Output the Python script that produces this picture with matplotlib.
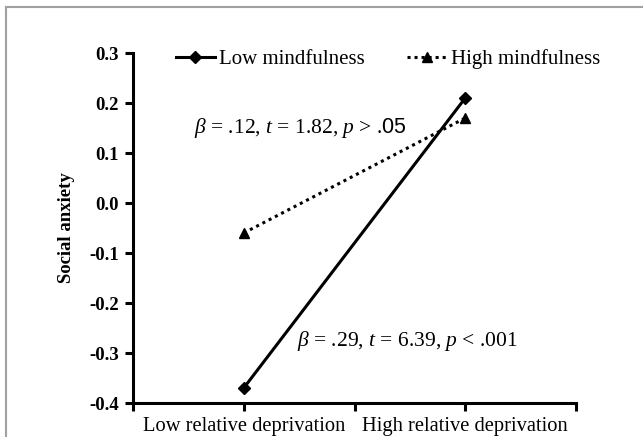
import numpy as np
import matplotlib.pyplot as plt
from matplotlib.patches import Rectangle

plt.rcParams['font.family'] = ['Liberation Serif', 'DejaVu Serif']
plt.rcParams['mathtext.fontset'] = 'custom'
plt.rcParams['mathtext.rm'] = 'Liberation Serif'
plt.rcParams['mathtext.it'] = 'Liberation Serif:italic'
plt.rcParams['mathtext.sf'] = 'Liberation Sans'

# data
categories = ["Low relative deprivation", "High relative deprivation"]
cat_pos = [1, 3]
low_mindfulness = [-0.37, 0.21]
high_mindfulness = [-0.06, 0.17]
yticks = [-0.4, -0.3, -0.2, -0.1, 0.0, 0.1, 0.2, 0.3]

fig = plt.figure(figsize=(6.43, 4.37), dpi=100)
# grey frame around the picture
fig.patches.append(Rectangle((6 / 643, -0.1), 1.2, 1 - 7 / 437 + 0.1,
                             transform=fig.transFigure, fill=False,
                             edgecolor='#a0a0a0', linewidth=1.5))
ax = fig.add_axes([133 / 643, 1 - 403 / 437, 443 / 643, 350 / 437])

ax.plot(cat_pos, low_mindfulness, color='black', linewidth=2.2,
        marker='D', markersize=6.5, label="Low mindfulness")
ax.plot(cat_pos, high_mindfulness, color='black', linewidth=2.2,
        linestyle=(0, (1, 1.3)), marker='^', markersize=7.5,
        label="High mindfulness")

ax.set_xlim(0, 4)
ax.set_ylim(-0.4, 0.3)
ax.set_xticks([0, 1, 2, 3, 4])
ax.set_xticklabels(["", categories[0], "", categories[1], ""], fontsize=14.8)
ax.set_yticks(yticks)
ax.set_yticklabels(["%.1f" % v for v in yticks], fontsize=13.5, fontweight='bold')
ax.set_ylabel("Social anxiety", fontsize=13.5, fontweight='bold', labelpad=10)

for s in ['top', 'right']:
    ax.spines[s].set_visible(False)
for s in ['left', 'bottom']:
    ax.spines[s].set_linewidth(2.2)
ax.tick_params(direction='out', length=6, width=2.2, pad=4)

ax.legend(loc='upper center', bbox_to_anchor=(0.575, 1.065), ncol=2,
          frameon=False, fontsize=15, handlelength=1.9, handletextpad=0.2,
          columnspacing=2.0)

ax.text(0.55, 0.15, r"$\beta$ = .12, $t$ = 1.82, $p$ > .$\mathsf{05}$",
        fontsize=15.5, ha='left', va='center')
ax.text(1.48, -0.276, r"$\beta$ = .29, $t$ = 6.39, $p$ < .001", fontsize=15.5,
        ha='left', va='center')

fig.savefig("out.png", dpi=100)
